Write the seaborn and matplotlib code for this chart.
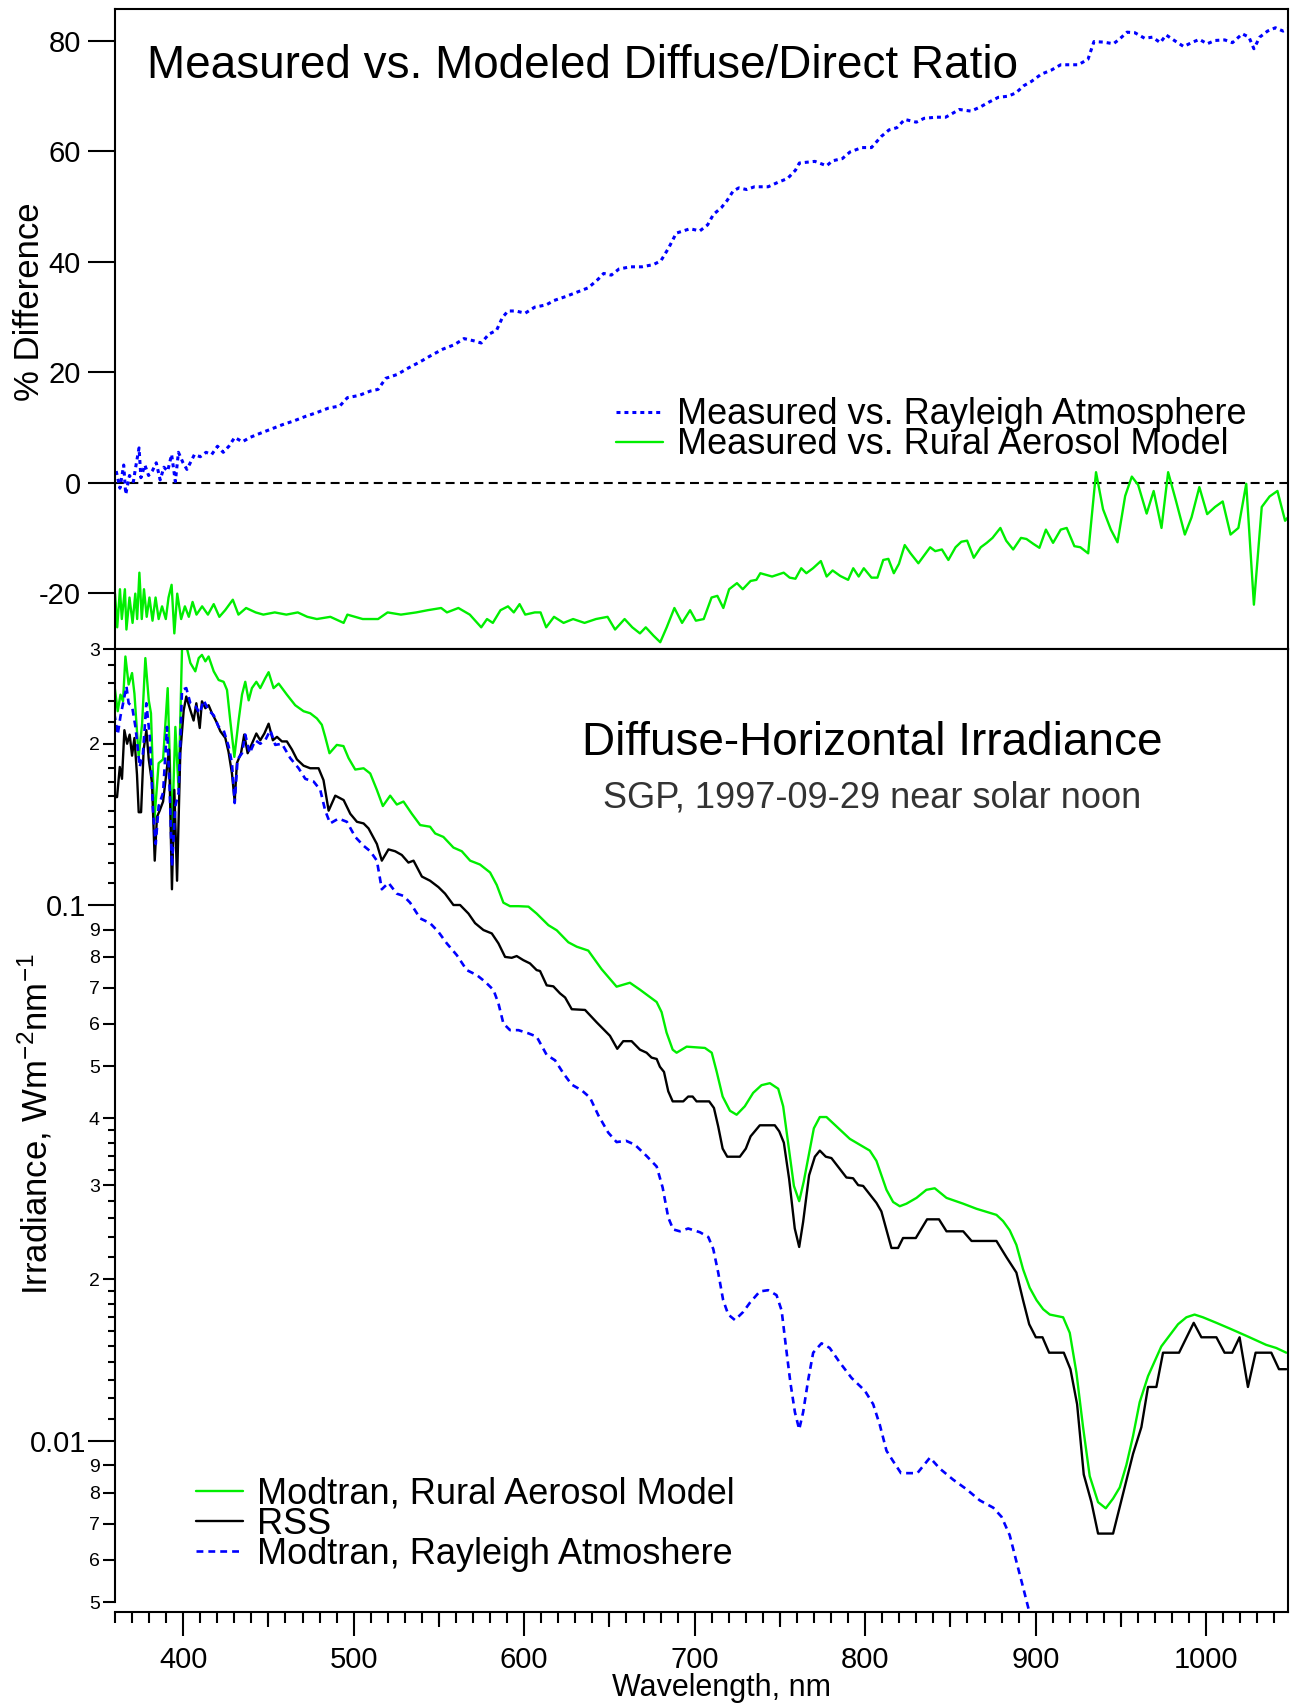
import matplotlib
matplotlib.use('Agg')
import matplotlib.pyplot as plt
from matplotlib.ticker import FixedLocator, FixedFormatter, NullLocator
import seaborn as sns

sns.set_theme(style='ticks', rc={'axes.edgecolor': 'black', 'text.color': 'black',
                                 'xtick.color': 'black', 'ytick.color': 'black',
                                 'axes.labelcolor': 'black'})
plt.rcParams['font.family'] = ['Liberation Sans', 'DejaVu Sans']
plt.rcParams['mathtext.fontset'] = 'custom'
plt.rcParams['mathtext.rm'] = 'Liberation Sans'
plt.rcParams['mathtext.it'] = 'Liberation Sans:italic'
plt.rcParams['axes.unicode_minus'] = False

# ---- top panel: % difference of diffuse/direct ratio ----
diff_wl_rayleigh = [360.7, 362.9, 365.1, 366.3, 368.5, 370.8, 371.9, 374.1, 375.2, 377.5, 379.7, 382.0,
                    384.2, 386.5, 388.7, 390.9, 393.2, 395.4, 397.2, 399.9, 402.2, 406.6, 410.0, 413.4,
                    416.7, 420.1, 423.5, 426.8, 430.2, 434.7, 439.2, 444.8, 451.5, 458.2, 465.0, 471.7,
                    478.4, 485.1, 491.9, 496.3, 503.1, 509.8, 514.3, 518.8, 525.5, 532.2, 539.0, 545.7,
                    552.4, 559.1, 564.7, 570.4, 574.8, 579.3, 583.8, 587.2, 590.5, 595.0, 600.6, 606.2,
                    612.9, 617.5, 624.2, 630.9, 637.6, 643.2, 646.6, 651.1, 655.6, 662.3, 669.0, 675.8,
                    680.2, 684.7, 689.2, 697.3, 703.0, 707.6, 711.0, 715.6, 719.0, 722.5, 725.9, 730.5,
                    735.1, 743.1, 748.8, 754.5, 759.1, 761.4, 770.5, 777.4, 780.8, 786.6, 791.1, 798.0,
                    803.7, 809.4, 814.0, 818.6, 823.2, 830.0, 834.6, 841.5, 847.2, 850.7, 855.2, 862.1,
                    867.8, 872.4, 878.1, 883.8, 888.4, 893.0, 897.6, 903.3, 909.0, 914.7, 919.3, 925.0,
                    930.7, 934.2, 939.9, 945.6, 949.0, 953.6, 958.2, 963.9, 968.5, 973.1, 976.5, 982.3,
                    986.8, 991.4, 996.0, 1000.6, 1005.2, 1010.9, 1015.4, 1021.2, 1025.1, 1028.0, 1031.4,
                    1036.0, 1040.6, 1045.1, 1048.0]
diff_rayleigh = [2.1, -1.0, 3.2, -2.1, 1.3, 0.2, 2.4, 6.3, 0.9, 3.2, 1.3, 2.2,
                 3.6, 0.5, 2.8, 2.1, 5.1, 0.2, 5.5, 3.6, 2.4, 5.1, 4.7, 5.5,
                 5.1, 6.6, 5.5, 6.6, 8.2, 7.4, 8.2, 8.9, 9.7, 10.5, 11.2, 12.0,
                 12.7, 13.5, 13.9, 15.4, 15.8, 16.6, 16.9, 18.9, 19.6, 20.8, 21.9, 23.1,
                 24.2, 25.0, 26.1, 25.7, 25.3, 26.9, 27.6, 29.9, 31.1, 31.1, 30.7, 31.8,
                 32.2, 33.0, 33.7, 34.5, 35.3, 36.8, 37.9, 37.6, 38.7, 39.1, 39.1, 39.5,
                 40.2, 42.5, 45.2, 46.0, 45.6, 46.7, 48.6, 49.8, 51.1, 52.8, 53.4, 53.1,
                 53.6, 53.6, 54.4, 55.1, 56.6, 57.9, 58.2, 57.4, 58.3, 58.7, 59.9, 60.7,
                 60.7, 62.7, 63.9, 64.3, 65.8, 65.3, 66.0, 66.2, 66.2, 66.8, 67.6, 67.3,
                 68.1, 68.9, 69.8, 70.0, 70.6, 71.9, 72.7, 74.0, 74.7, 75.7, 75.7, 75.7,
                 76.7, 79.9, 79.8, 79.5, 80.3, 81.6, 81.5, 80.5, 80.7, 79.7, 81.1, 79.9,
                 79.0, 79.7, 80.3, 79.5, 80.1, 80.2, 79.7, 81.3, 80.7, 78.6, 80.7,
                 81.8, 82.4, 81.8, 82.2]

diff_wl_rural = [360.0, 361.3, 362.9, 364.0, 365.8, 366.7, 368.5, 370.3, 371.9, 373.0, 374.3, 375.7,
                 377.0, 378.6, 380.2, 382.0, 383.8, 385.6, 387.6, 389.8, 391.4, 393.2, 394.8, 396.5,
                 398.8, 401.0, 403.3, 405.5, 407.8, 411.1, 414.5, 417.9, 421.2, 424.6, 429.1, 432.4,
                 436.9, 442.5, 447.0, 453.7, 460.5, 467.2, 472.8, 478.4, 486.3, 494.1, 496.3, 505.3,
                 514.3, 519.9, 527.7, 536.7, 543.4, 551.3, 554.7, 561.4, 568.1, 574.8, 578.2, 581.6,
                 586.1, 590.5, 593.9, 597.3, 600.6, 606.2, 609.6, 612.9, 617.5, 623.1, 628.7, 635.4,
                 642.1, 648.9, 653.3, 658.9, 663.4, 667.9, 671.3, 675.8, 679.8, 683.6, 688.1, 692.6,
                 697.3, 700.7, 705.3, 709.9, 713.3, 716.8, 720.2, 724.8, 728.2, 732.8, 736.2, 738.5,
                 745.4, 752.2, 755.7, 759.1, 762.5, 765.5, 769.4, 774.0, 777.4, 780.9, 785.4, 790.0,
                 793.0, 796.2, 799.2, 803.7, 807.2, 810.6, 813.6, 816.8, 819.8, 823.2, 826.6, 831.2,
                 838.1, 841.1, 845.0, 848.8, 853.0, 856.4, 859.8, 863.7, 867.8, 871.3, 874.7, 879.3,
                 882.7, 886.8, 891.4, 894.6, 898.7, 902.2, 906.0, 910.2, 914.7, 918.2, 922.7, 926.2,
                 930.8, 935.4, 939.5, 944.1, 948.0, 952.5, 956.4, 960.1, 965.1, 969.2, 973.8, 977.7,
                 982.3, 987.5, 991.4, 996.0, 1000.6, 1005.2, 1009.7, 1014.3, 1018.9, 1023.5, 1028.0,
                 1032.6, 1037.2, 1041.8, 1046.3, 1050.9]
diff_rural = [-20.1, -26.2, -19.3, -24.7, -19.3, -26.6, -20.8, -25.4, -20.1, -24.7, -16.3, -24.7,
              -19.3, -24.3, -20.8, -25.0, -20.8, -24.7, -22.4, -24.7, -20.8, -18.5, -27.3, -20.1,
              -24.7, -22.4, -24.3, -21.6, -23.9, -22.4, -23.9, -22.0, -24.3, -23.1, -21.2, -23.9,
              -22.7, -23.5, -23.9, -23.5, -23.9, -23.5, -24.3, -24.7, -24.3, -25.4, -23.9, -24.7,
              -24.7, -23.5, -23.9, -23.5, -23.1, -22.7, -23.5, -22.7, -23.9, -26.2, -24.7, -25.4,
              -23.1, -22.4, -23.5, -22.0, -23.9, -23.5, -23.5, -26.2, -24.3, -25.4, -24.7, -25.4,
              -24.7, -24.3, -26.6, -24.7, -26.2, -27.3, -26.2, -27.7, -28.9, -26.2, -22.7, -25.4,
              -23.1, -25.0, -24.7, -20.8, -20.5, -22.7, -19.3, -18.2, -19.3, -17.8, -17.6, -16.4,
              -17.0, -16.3, -17.2, -17.4, -15.5, -16.4, -15.5, -14.2, -17.0, -15.9, -16.9, -17.6,
              -15.5, -17.0, -15.5, -17.2, -17.2, -14.0, -13.8, -16.4, -14.7, -11.3, -12.8, -14.6,
              -11.7, -12.4, -12.1, -14.0, -11.7, -10.7, -10.5, -13.6, -11.7, -10.9, -10.0, -8.2,
              -10.5, -12.1, -10.0, -10.2, -11.1, -11.8, -8.5, -10.9, -8.5, -8.2, -11.5, -11.7,
              -12.8, 1.9, -4.8, -8.5, -10.8, -2.4, 1.1, -0.4, -5.6, -1.5, -8.2, 1.9,
              -3.3, -9.4, -6.3, -0.8, -5.7, -4.4, -3.4, -9.4, -8.2, -0.2, -22.1,
              -4.4, -2.5, -1.5, -6.9, -5.2]

# ---- bottom panel: diffuse-horizontal irradiance ----
irr_wl_rural = [359.6, 361.6, 363.2, 364.7, 366.1, 368.0, 370.0, 371.4, 373.9, 375.9, 377.8, 379.8,
                381.1, 383.1, 385.6, 388.2, 390.9, 393.4, 395.4, 397.3, 399.3, 401.3, 404.2, 407.1,
                409.1, 411.0, 413.0, 414.9, 417.9, 420.8, 423.7, 425.7, 427.6, 430.0, 432.5, 434.5,
                436.4, 438.4, 440.3, 442.9, 445.2, 448.1, 450.1, 453.0, 456.0, 460.8, 465.7, 470.6,
                474.5, 478.4, 481.3, 483.3, 485.8, 490.1, 494.0, 497.0, 500.9, 505.8, 509.7, 513.6,
                517.1, 521.4, 525.3, 529.2, 534.1, 539.0, 544.8, 547.8, 552.6, 558.5, 563.4, 568.3,
                574.1, 580.0, 583.9, 587.8, 591.7, 596.6, 602.5, 607.3, 614.2, 619.1, 625.9, 630.8,
                637.6, 645.4, 654.2, 662.0, 667.9, 677.7, 680.6, 683.5, 687.1, 689.4, 695.3, 706.0,
                710.0, 712.8, 716.4, 720.7, 724.6, 729.4, 734.3, 739.2, 744.1, 749.0, 751.9, 754.8,
                758.2, 761.3, 764.0, 767.1, 769.9, 773.4, 777.3, 783.2, 791.0, 796.8, 802.7, 806.6,
                812.5, 816.4, 820.3, 824.2, 830.1, 835.9, 840.8, 847.7, 857.5, 865.3, 877.0, 880.9,
                884.8, 888.7, 892.6, 896.5, 900.5, 904.4, 908.3, 916.1, 920.0, 923.9, 927.8, 931.7,
                936.6, 941.1, 945.4, 949.3, 953.2, 957.1, 961.0, 965.9, 973.7, 983.5, 988.4, 993.2,
                998.1, 1006.0, 1013.8, 1023.5, 1035.2, 1041.1, 1047.0]
irr_rural = [0.258, 0.230, 0.247, 0.240, 0.291, 0.258, 0.271, 0.248, 0.189, 0.218, 0.289, 0.241,
             0.228, 0.144, 0.184, 0.187, 0.254, 0.136, 0.215, 0.164, 0.300, 0.310, 0.283, 0.273,
             0.289, 0.293, 0.285, 0.291, 0.273, 0.263, 0.261, 0.252, 0.221, 0.189, 0.221, 0.247,
             0.261, 0.241, 0.254, 0.261, 0.254, 0.265, 0.272, 0.254, 0.259, 0.247, 0.236, 0.230,
             0.228, 0.223, 0.217, 0.206, 0.192, 0.199, 0.198, 0.188, 0.179, 0.180, 0.176, 0.164,
             0.153, 0.160, 0.154, 0.156, 0.148, 0.141, 0.140, 0.136, 0.134, 0.128, 0.126, 0.121,
             0.119, 0.115, 0.109, 0.101, 0.0995, 0.0995, 0.0993, 0.0964, 0.0917, 0.0897, 0.0852, 0.0836,
             0.0822, 0.0759, 0.0704, 0.0716, 0.0695, 0.0659, 0.0631, 0.0578, 0.0537, 0.0530, 0.0544, 0.0541,
             0.0530, 0.0490, 0.0439, 0.0413, 0.0406, 0.0421, 0.0446, 0.0461, 0.0465, 0.0454, 0.0421, 0.0360,
             0.0299, 0.0280, 0.0305, 0.0344, 0.0383, 0.0402, 0.0402, 0.0386, 0.0366, 0.0357, 0.0348, 0.0333,
             0.0294, 0.0279, 0.0274, 0.0277, 0.0284, 0.0294, 0.0296, 0.0284, 0.0277, 0.0271, 0.0264, 0.0257,
             0.0247, 0.0232, 0.0209, 0.0193, 0.0183, 0.0176, 0.0172, 0.0170, 0.0159, 0.0134, 0.0106, 0.00859,
             0.00768, 0.00748, 0.00780, 0.00818, 0.00901, 0.0102, 0.0118, 0.0132, 0.0150, 0.0165, 0.0170, 0.0172,
             0.0170, 0.0166, 0.0162, 0.0157, 0.0151, 0.0149, 0.0146]

irr_wl_rss = [359.6, 361.2, 362.8, 364.1, 365.5, 367.1, 368.6, 370.0, 371.4, 372.9, 373.9, 375.3,
              376.8, 378.4, 379.8, 381.7, 383.3, 384.6, 386.2, 388.2, 390.1, 391.7, 393.4, 394.8,
              396.4, 398.3, 400.3, 401.8, 404.2, 406.1, 407.7, 409.7, 411.0, 413.0, 414.9, 416.9,
              419.4, 421.8, 424.7, 426.6, 428.6, 430.2, 431.5, 433.9, 435.8, 437.8, 440.3, 442.9,
              445.2, 447.6, 450.1, 452.6, 455.0, 457.9, 460.8, 463.8, 466.7, 470.6, 474.5, 479.4,
              482.3, 485.3, 489.2, 494.1, 498.0, 501.9, 505.8, 508.7, 513.6, 516.5, 520.4, 524.3,
              528.2, 532.1, 535.1, 540.0, 544.8, 549.7, 553.6, 558.5, 562.4, 567.3, 571.2, 576.1,
              581.0, 584.9, 588.8, 592.7, 595.6, 599.5, 603.4, 607.3, 609.3, 613.2, 617.1, 621.0,
              624.0, 627.9, 635.7, 642.5, 650.3, 654.6, 658.1, 663.0, 667.9, 671.8, 674.7, 677.7,
              679.6, 682.0, 684.5, 687.1, 693.3, 696.2, 698.8, 701.1, 708.5, 711.3, 713.8, 716.4,
              719.1, 726.5, 730.0, 732.8, 738.2, 747.0, 749.6, 752.3, 755.4, 758.7, 761.3, 763.6,
              767.1, 770.5, 773.4, 776.9, 780.2, 789.0, 792.9, 795.9, 798.8, 806.6, 809.5, 815.4,
              819.3, 822.2, 829.7, 836.3, 843.3, 847.7, 857.5, 862.4, 877.0, 882.9, 888.7, 892.6,
              896.2, 900.1, 904.0, 907.9, 916.5, 920.4, 924.3, 928.2, 932.7, 936.6, 945.4, 950.3,
              957.1, 962.0, 965.9, 970.8, 974.7, 984.1, 992.7, 997.2, 1006.0, 1010.8, 1015.3, 1019.6,
              1024.5, 1029.0, 1038.2, 1042.7, 1047.0]
irr_rss = [0.159, 0.159, 0.181, 0.172, 0.212, 0.200, 0.208, 0.190, 0.205, 0.175, 0.149, 0.149,
           0.195, 0.212, 0.187, 0.169, 0.121, 0.146, 0.150, 0.156, 0.176, 0.195, 0.107, 0.164,
           0.111, 0.192, 0.231, 0.245, 0.231, 0.221, 0.238, 0.214, 0.240, 0.233, 0.236, 0.228,
           0.220, 0.211, 0.205, 0.193, 0.176, 0.156, 0.184, 0.192, 0.208, 0.192, 0.200, 0.209,
           0.203, 0.209, 0.218, 0.203, 0.206, 0.202, 0.202, 0.195, 0.187, 0.182, 0.180, 0.180,
           0.171, 0.150, 0.160, 0.157, 0.148, 0.143, 0.142, 0.139, 0.130, 0.121, 0.127, 0.126,
           0.124, 0.120, 0.121, 0.113, 0.111, 0.108, 0.105, 0.100, 0.100, 0.0964, 0.0925, 0.0898,
           0.0885, 0.0848, 0.0800, 0.0797, 0.0803, 0.0789, 0.0778, 0.0756, 0.0753, 0.0708, 0.0705, 0.0684,
           0.0672, 0.0639, 0.0637, 0.0604, 0.0570, 0.0539, 0.0557, 0.0557, 0.0537, 0.0530, 0.0519, 0.0516,
           0.0499, 0.0488, 0.0449, 0.0430, 0.0430, 0.0439, 0.0439, 0.0430, 0.0430, 0.0418, 0.0386, 0.0351,
           0.0339, 0.0339, 0.0351, 0.0370, 0.0388, 0.0388, 0.0378, 0.0360, 0.0308, 0.0249, 0.0230, 0.0256,
           0.0313, 0.0339, 0.0348, 0.0339, 0.0337, 0.0310, 0.0309, 0.0300, 0.0299, 0.0278, 0.0268, 0.0229,
           0.0229, 0.0239, 0.0239, 0.0259, 0.0259, 0.0246, 0.0246, 0.0236, 0.0236, 0.0220, 0.0206, 0.0183,
           0.0165, 0.0156, 0.0156, 0.0146, 0.0146, 0.0136, 0.0117, 0.00865, 0.00768, 0.00671, 0.00671, 0.00774,
           0.00945, 0.0106, 0.0126, 0.0126, 0.0146, 0.0146, 0.0166, 0.0156, 0.0156, 0.0146, 0.0146, 0.0156,
           0.0126, 0.0146, 0.0146, 0.0136, 0.0136]

irr_wl_rayleigh = [359.6, 361.6, 363.2, 365.1, 366.7, 368.0, 370.0, 372.0, 374.5, 376.4, 378.4, 380.4,
                   382.3, 383.9, 385.6, 388.2, 390.5, 392.1, 393.4, 395.4, 397.3, 399.3, 401.8, 404.2,
                   407.1, 409.7, 412.0, 414.9, 417.9, 420.8, 423.7, 426.6, 428.6, 430.2, 431.9, 434.5,
                   436.4, 439.0, 442.3, 445.2, 448.1, 451.1, 454.0, 457.9, 462.8, 467.7, 471.6, 476.5,
                   480.4, 483.3, 486.2, 491.1, 496.0, 500.9, 505.8, 509.7, 513.6, 516.5, 520.4, 525.3,
                   529.2, 533.1, 539.0, 544.8, 549.7, 554.6, 560.5, 566.3, 572.2, 577.1, 582.0, 584.9,
                   587.8, 591.7, 596.6, 602.5, 607.3, 613.2, 618.1, 623.0, 627.9, 633.7, 638.6, 643.5,
                   649.3, 654.2, 659.7, 664.9, 671.8, 677.7, 681.2, 684.5, 687.4, 691.3, 696.2, 703.1,
                   708.0, 710.9, 713.8, 716.7, 719.7, 723.6, 728.5, 732.4, 738.2, 743.1, 748.0, 751.0,
                   753.5, 756.2, 758.8, 761.3, 763.6, 766.6, 769.5, 774.4, 779.2, 785.1, 792.0, 799.8,
                   804.7, 808.6, 812.5, 816.0, 821.0, 830.6, 838.0, 843.8, 851.6, 859.4, 867.2, 875.1,
                   880.0, 884.8, 888.7, 892.6, 896.5]
irr_rayleigh = [0.228, 0.208, 0.225, 0.241, 0.256, 0.238, 0.235, 0.215, 0.181, 0.192, 0.238, 0.206,
                0.150, 0.130, 0.153, 0.162, 0.215, 0.164, 0.118, 0.153, 0.162, 0.252, 0.254, 0.238,
                0.235, 0.228, 0.241, 0.231, 0.226, 0.215, 0.212, 0.198, 0.184, 0.155, 0.187, 0.192,
                0.208, 0.192, 0.203, 0.200, 0.203, 0.212, 0.199, 0.200, 0.188, 0.180, 0.172, 0.170,
                0.164, 0.150, 0.142, 0.145, 0.143, 0.134, 0.129, 0.126, 0.121, 0.107, 0.110, 0.105,
                0.104, 0.101, 0.0944, 0.0925, 0.0891, 0.0848, 0.0806, 0.0756, 0.0740, 0.0719, 0.0694, 0.0655,
                0.0601, 0.0584, 0.0584, 0.0576, 0.0568, 0.0525, 0.0513, 0.0485, 0.0462, 0.0451, 0.0437, 0.0405,
                0.0376, 0.0361, 0.0363, 0.0357, 0.0340, 0.0325, 0.0297, 0.0261, 0.0248, 0.0246, 0.0249, 0.0245,
                0.0240, 0.0228, 0.0206, 0.0183, 0.0172, 0.0168, 0.0174, 0.0181, 0.0190, 0.0191, 0.0187, 0.0175,
                0.0150, 0.0128, 0.0113, 0.0105, 0.0113, 0.0130, 0.0146, 0.0152, 0.0149, 0.0140, 0.0131, 0.0124,
                0.0117, 0.0107, 0.00958, 0.0092, 0.0087, 0.0087, 0.0093, 0.00887, 0.00846, 0.00812, 0.00774, 0.00750,
                0.00721, 0.00666, 0.00595, 0.00533, 0.00476]

top_yticks = [-20, 0, 20, 40, 60, 80]
irr_major = [0.01, 0.1]
irr_major_labels = ['0.01', '0.1']
irr_minor = [0.005, 0.006, 0.007, 0.008, 0.009, 0.02, 0.03, 0.04, 0.05, 0.06, 0.07, 0.08, 0.09, 0.2, 0.3]
irr_minor_labels = ['5', '6', '7', '8', '9', '2', '3', '4', '5', '6', '7', '8', '9', '2', '3']
irr_fine = [0.011, 0.012, 0.013, 0.014, 0.015, 0.016, 0.017, 0.018, 0.019, 0.022, 0.024, 0.026, 0.028,
            0.032, 0.034, 0.036, 0.038, 0.11, 0.12, 0.13, 0.14, 0.15, 0.16, 0.17, 0.18, 0.19,
            0.22, 0.24, 0.26, 0.28]

GREEN = '#00ee00'
BLUE = '#0000ff'
W, H = 1296, 1703

fig = plt.figure(figsize=(W / 100, H / 100), dpi=100)
ax_top = fig.add_axes([115 / W, 1 - 649.4 / H, 1173 / W, 640.4 / H])
ax_bot = fig.add_axes([115 / W, 1 - 1612 / H, 1173 / W, 962.6 / H])

# top panel
ax_top.axhline(0, color='black', lw=1.5, ls=(0, (4.3, 2.6)))
sns.lineplot(x=diff_wl_rayleigh, y=diff_rayleigh, ax=ax_top, color=BLUE, lw=2.2,
             ls=(0, (1.3, 1.3)), estimator=None, label='Measured vs. Rayleigh Atmosphere')
sns.lineplot(x=diff_wl_rural, y=diff_rural, ax=ax_top, color=GREEN, lw=1.7,
             estimator=None, label='Measured vs. Rural Aerosol Model')
ax_top.set_xlim(360, 1048)
ax_top.set_ylim(-30.2, 85.8)
ax_top.set_yticks(top_yticks)
ax_top.tick_params(axis='y', which='major', direction='out', length=19.5, width=1.5,
                   labelsize=21, pad=5)
ax_top.tick_params(axis='x', which='both', bottom=False, labelbottom=False)
ax_top.set_xlabel('')
ax_top.set_ylabel('% Difference', fontsize=25)
ax_top.yaxis.label.set_va('center')
ax_top.yaxis.set_label_coords((30 - 115) / 1173, (649.4 - 302) / 640.4)
for s in ax_top.spines.values():
    s.set_linewidth(1.5)
ax_top.text((147 - 115) / 1173, (649.4 - 78) / 640.4, 'Measured vs. Modeled Diffuse/Direct Ratio',
            transform=ax_top.transAxes, fontsize=33, ha='left', va='baseline')
h_top = ax_top.get_lines()[1:3]
ax_top.legend(handles=h_top, labels=[l.get_label() for l in h_top], loc='upper left',
              bbox_to_anchor=(616 / W, 1 - 397.5 / H), bbox_transform=fig.transFigure,
              frameon=False, fontsize=26, handlelength=1.31, handletextpad=0.39,
              labelspacing=-0.14, borderpad=0, borderaxespad=0)

# bottom panel
sns.lineplot(x=irr_wl_rural, y=irr_rural, ax=ax_bot, color=GREEN, lw=1.7,
             estimator=None, label='Modtran, Rural Aerosol Model')
sns.lineplot(x=irr_wl_rss, y=irr_rss, ax=ax_bot, color='black', lw=1.7,
             estimator=None, label='RSS')
sns.lineplot(x=irr_wl_rayleigh, y=irr_rayleigh, ax=ax_bot, color=BLUE, lw=1.9,
             ls=(0, (2.6, 1.9)), estimator=None, label='Modtran, Rayleigh Atmoshere')
ax_bot.set_yscale('log')
ax_bot.set_xlim(360, 1048)
ax_bot.set_ylim(0.00479, 0.3)
ax_bot.spines['left'].set_bounds(0.005, 0.3)
for s in ax_bot.spines.values():
    s.set_linewidth(1.5)

ax_bot.yaxis.set_major_locator(FixedLocator(irr_major))
ax_bot.yaxis.set_major_formatter(FixedFormatter(irr_major_labels))
ax_bot.yaxis.set_minor_locator(FixedLocator(irr_minor))
ax_bot.yaxis.set_minor_formatter(FixedFormatter(irr_minor_labels))
ax_bot.tick_params(axis='y', which='major', direction='out', length=19.5, width=1.5,
                   labelsize=21, pad=1)
ax_bot.tick_params(axis='y', which='minor', direction='out', length=9, width=1.5,
                   labelsize=14, pad=2)
sec_y = ax_bot.secondary_yaxis('left')
sec_y.set_yticks(irr_fine)
sec_y.set_yticklabels([''] * len(irr_fine))
sec_y.yaxis.set_minor_locator(NullLocator())
sec_y.tick_params(axis='y', which='major', direction='out', length=5, width=1.5)
sec_y.spines['left'].set_visible(False)

ax_bot.set_xticks(list(range(400, 1001, 100)))
ax_bot.set_xticks(list(range(360, 1048, 10)), minor=True)
ax_bot.tick_params(axis='x', which='major', direction='out', length=17.5, width=1.5,
                   labelsize=21, pad=7)
ax_bot.tick_params(axis='x', which='minor', direction='out', length=8, width=1.5)
sec_x = ax_bot.secondary_xaxis('bottom')
sec_x.set_xticks(list(range(450, 1048, 100)))
sec_x.set_xticklabels([''] * len(range(450, 1048, 100)))
sec_x.tick_params(axis='x', which='major', direction='out', length=11, width=1.5)
sec_x.spines['bottom'].set_visible(False)

ax_bot.set_xlabel('Wavelength, nm', fontsize=22)
ax_bot.xaxis.label.set_va('center')
ax_bot.xaxis.set_label_coords((722 - 115) / 1173, (1612 - 1688) / 962.6)
ax_bot.set_ylabel(r'Irradiance, Wm$^{-2}$nm$^{-1}$', fontsize=25)
ax_bot.yaxis.label.set_va('center')
ax_bot.yaxis.set_label_coords((35 - 115) / 1173, (1612 - 1124) / 962.6)

ax_bot.text((872 - 115) / 1173, (1612 - 755) / 962.6, 'Diffuse-Horizontal Irradiance',
            transform=ax_bot.transAxes, fontsize=33, ha='center', va='baseline')
ax_bot.text((872 - 115) / 1173, (1612 - 807) / 962.6, 'SGP, 1997-09-29 near solar noon',
            transform=ax_bot.transAxes, fontsize=26, ha='center', va='baseline', color='#333333')
h_bot = ax_bot.get_lines()[:3]
ax_bot.legend(handles=h_bot, labels=[l.get_label() for l in h_bot], loc='upper left',
              bbox_to_anchor=(196 / W, 1 - 1476.5 / H), bbox_transform=fig.transFigure,
              frameon=False, fontsize=26, handlelength=1.31, handletextpad=0.39,
              labelspacing=-0.13, borderpad=0, borderaxespad=0)

fig.savefig('out.png', dpi=100)
